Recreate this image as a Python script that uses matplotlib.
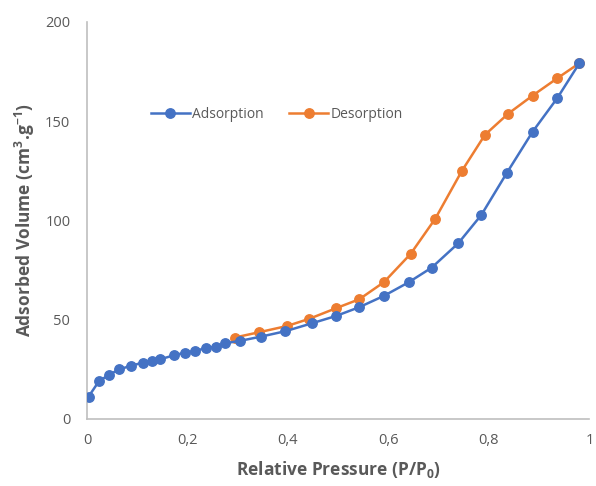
import matplotlib
matplotlib.use("Agg")
import matplotlib.pyplot as plt
from matplotlib.ticker import FuncFormatter

ads_x = [0.003, 0.024, 0.044, 0.064, 0.087, 0.111, 0.130, 0.146, 0.174, 0.195,
         0.215, 0.236, 0.256, 0.274, 0.304, 0.347, 0.395, 0.448, 0.496, 0.542,
         0.591, 0.640, 0.686, 0.739, 0.785, 0.836, 0.887, 0.936, 0.980]
ads_y = [11.2, 19.1, 22.2, 25.0, 26.7, 28.4, 29.4, 30.1, 32.1, 33.4,
         34.3, 35.6, 36.4, 38.1, 39.3, 41.5, 44.2, 48.2, 51.9, 56.3,
         62.0, 68.8, 76.2, 88.5, 102.8, 124.1, 144.7, 161.6, 179.2]

des_x = [0.294, 0.343, 0.398, 0.442, 0.496, 0.542, 0.591, 0.644, 0.693, 0.746,
         0.792, 0.838, 0.887, 0.936, 0.980]
des_y = [41.0, 43.7, 46.8, 50.4, 55.8, 60.3, 68.9, 83.1, 100.8, 124.9,
         143.1, 153.7, 162.9, 171.6, 179.2]

x_ticks = [0, 0.2, 0.4, 0.6, 0.8, 1.0]
y_ticks = [0, 50, 100, 150, 200]

blue = "#4472C4"
orange = "#ED7D31"
grey_txt = "#595959"

plt.rcParams['font.family'] = ['Open Sans', 'DejaVu Sans']

fig = plt.figure(figsize=(5.96, 4.86), dpi=100)
ax = fig.add_axes([0.146, 0.138, 0.843, 0.817])

ax.plot(ads_x, ads_y, color=blue, lw=1.8, marker='o', ms=6.8, label='Adsorption', zorder=3)
ax.plot(des_x, des_y, color=orange, lw=1.8, marker='o', ms=6.8, label='Desorption', zorder=2)

ax.set_xlim(0, 1)
ax.set_ylim(0, 200)
ax.set_xticks(x_ticks)
ax.set_yticks(y_ticks)

def fmt(v, pos):
    s = f"{v:g}"
    return s.replace('.', ',')

ax.xaxis.set_major_formatter(FuncFormatter(fmt))
ax.tick_params(length=0, labelsize=10.5, labelcolor=grey_txt, pad=10)
ax.tick_params(axis='y', pad=12)

for s in ['top', 'right']:
    ax.spines[s].set_visible(False)
for s in ['left', 'bottom']:
    ax.spines[s].set_color('#BFBFBF')
    ax.spines[s].set_linewidth(1.2)

ax.set_xlabel('Relative Pressure (P/P$_\\mathregular{0}$)', fontsize=12.5, fontweight='bold',
              color=grey_txt, labelpad=8)
ax.set_ylabel('Adsorbed Volume (cm$^\\mathregular{3}$.g$^\\mathregular{-1}$)', fontsize=12.5,
              fontweight='bold', color=grey_txt, labelpad=6)

leg = ax.legend(loc='center', bbox_to_anchor=(0.378, 0.766), ncol=2, frameon=False,
                fontsize=10, handlelength=2.8, columnspacing=1.8, handletextpad=0.2)
for t in leg.get_texts():
    t.set_color(grey_txt)

fig.savefig('out.png', dpi=100)
